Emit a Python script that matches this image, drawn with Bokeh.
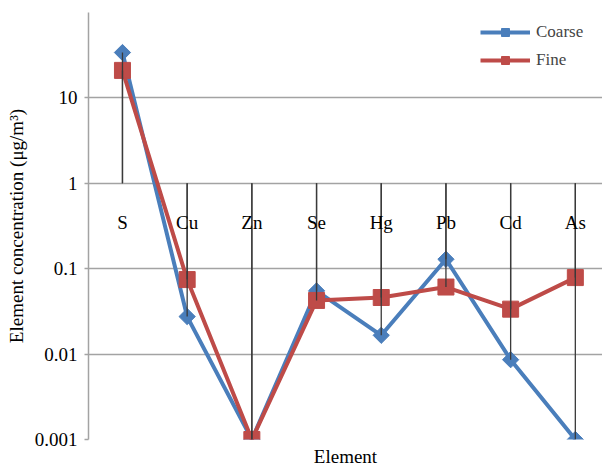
import numpy as np
from bokeh.plotting import figure
from bokeh.models import Range1d, FixedTicker, CustomJSTickFormatter, Legend, LegendItem, ColumnDataSource
from bokeh.core.properties import value
from bokeh.embed import file_html
from bokeh.resources import INLINE

categories = ["S", "Cu", "Zn", "Se", "Hg", "Pb", "Cd", "As"]
coarse = [34.0, 0.0275, 0.001, 0.055, 0.0166, 0.129, 0.0086, 0.001]
fine = [21.0, 0.0746, 0.001, 0.0425, 0.046, 0.061, 0.0336, 0.0787]
y_ticks = [0.001, 0.01, 0.1, 1, 10]
axis_cross = 1.0

BLUE = "#4A7EBB"
RED = "#BE4B48"
GRID = "#a3a3a3"
FONT = "'Liberation Serif', 'Times New Roman', serif"

idx = list(range(len(categories)))

p = figure(width=602, height=469, y_axis_type="log",
           x_range=Range1d(-0.525, 7.42), y_range=Range1d(0.001, 100),
           output_backend="svg", toolbar_location=None,
           min_border_left=88, min_border_right=0, min_border_top=12, min_border_bottom=29)
p.outline_line_color = None
p.background_fill_color = "white"
p.border_fill_color = "white"

# y axis
yax = p.yaxis[0]
yax.ticker = FixedTicker(ticks=y_ticks, minor_ticks=[])
yax.formatter = CustomJSTickFormatter(code="return tick.toString();")
yax.axis_line_color = GRID
yax.axis_line_width = 1.5
yax.major_tick_line_color = GRID
yax.major_tick_line_width = 1.5
yax.major_tick_out = 4
yax.major_tick_in = 0
yax.minor_tick_line_color = None
yax.major_label_text_font = FONT
yax.major_label_text_font_size = "19px"
yax.major_label_text_color = "black"
yax.major_label_standoff = 7
yax.axis_label = "Element concentration (\u03bcg/m\u00b3)"
yax.axis_label_text_font = FONT
yax.axis_label_text_font_size = "19px"
yax.axis_label_text_font_style = "normal"
yax.axis_label_text_color = "black"
yax.axis_label_standoff = 5

# x axis (title only)
xax = p.xaxis[0]
xax.ticker = FixedTicker(ticks=[])
xax.axis_line_color = None
xax.major_tick_line_color = None
xax.minor_tick_line_color = None
xax.axis_label = "Element"
xax.axis_label_text_font = FONT
xax.axis_label_text_font_size = "19px"
xax.axis_label_text_font_style = "normal"
xax.axis_label_text_color = "black"
xax.axis_label_text_line_height = 1.0
xax.axis_label_standoff = 6

p.xgrid.visible = False
p.ygrid.ticker = FixedTicker(ticks=y_ticks)
p.ygrid.grid_line_color = GRID
p.ygrid.grid_line_width = 1.5

# series
l1 = p.line(idx, coarse, line_color=BLUE, line_width=4)
m1 = p.scatter(idx, coarse, marker="square", angle=np.pi / 4, size=11.5,
               fill_color=BLUE, line_color=BLUE)
l2 = p.line(idx, fine, line_color=RED, line_width=4)
m2 = p.scatter(idx, fine, marker="square", size=16, fill_color=RED, line_color=RED)

# drop lines from the category axis (crossing at 1) to each point
p.segment(x0=idx, y0=[axis_cross] * len(idx), x1=idx, y1=coarse, line_color="#3a3a3a", line_width=1.3)
p.segment(x0=idx, y0=[axis_cross] * len(idx), x1=idx, y1=fine, line_color="#3a3a3a", line_width=1.3)

# category labels under the axis at y=1
src = ColumnDataSource(dict(x=idx, y=[axis_cross] * len(idx), t=categories))
p.text(x="x", y="y", text="t", source=src, text_align="center", text_baseline="middle",
       y_offset=39, text_font=value(FONT), text_font_size="19px", text_color="black")

legend = Legend(items=[LegendItem(label="Coarse", renderers=[l1, m1]),
                       LegendItem(label="Fine", renderers=[l2, m2])],
                location=(392, 369), padding=0, margin=0, spacing=8,
                glyph_width=50, glyph_height=20, label_height=20, label_standoff=6,
                border_line_color=None, background_fill_alpha=0,
                label_text_font=FONT, label_text_font_size="17px")
p.add_layout(legend)

open("out.html", "w").write(file_html(p, INLINE))
